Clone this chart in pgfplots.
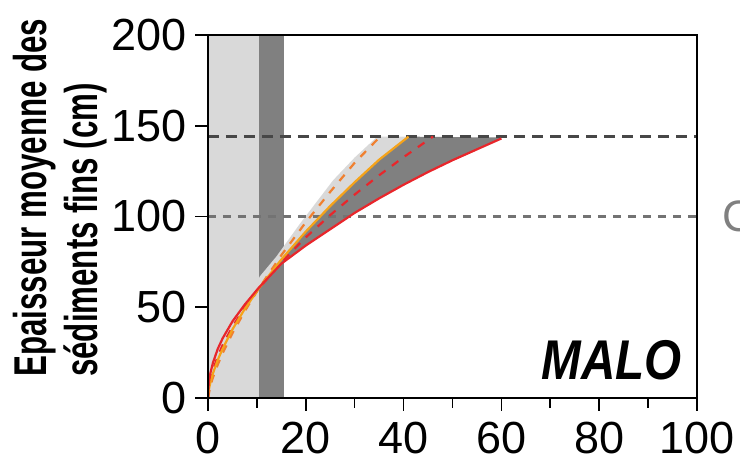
\documentclass[border=0pt]{standalone}
\usepackage{fontspec}
\setmainfont{Liberation Sans}
\newfontfamily\labfont[FakeStretch=0.68]{Liberation Sans}
\newfontfamily\malofont[FakeStretch=0.85]{Liberation Sans}
\newfontfamily\tickfont{Liberation Sans}
\usepackage{pgfplots}
\pgfplotsset{compat=1.18}
\definecolor{lgray}{HTML}{D9D9D9}
\definecolor{dgray}{HTML}{808080}
\definecolor{myred}{HTML}{E8262B}
\definecolor{myorange}{HTML}{F5A31A}
\definecolor{dorange}{HTML}{F08030}
\begin{document}
\begin{tikzpicture}
\begin{axis}[
  name=ax,
  scale only axis, width=489pt, height=363pt,
  xmin=0, xmax=100, ymin=0, ymax=200,
  xtick={0,20,...,100}, minor xtick={10,30,...,90},
  ytick={0,50,...,200},
  xtick pos=bottom, ytick pos=left,
  tick align=outside, major tick length=13pt, minor tick length=10pt,
  every tick/.style={black, line width=1.6pt},
  axis line style={line width=1.8pt},
  axis on top,
  /pgf/number format/assume math mode=true,
  every tick label/.append style={font=\tickfont\fontsize{45}{45}\selectfont, inner sep=0pt},
  xticklabel style={yshift=-11pt},
  yticklabel style={xshift=-8pt},
]
% vertical bands
\addplot[fill=lgray, draw=none] coordinates {(0,0) (10.4,0) (10.4,200) (0,200)} -- cycle;
\addplot[fill=dgray, draw=none] coordinates {(10.4,0) (15.6,0) (15.6,200) (10.4,200)} -- cycle;
% light envelope (upper boundary to orange solid)
\addplot[fill=lgray, draw=none] coordinates {
 (9.0,58) (10.6,67) (14,78) (18.8,96) (25.6,120) (30,132.5) (34.6,144)
 (41,144) (35,131.3) (30,118.9) (25,105.8) (20,91.7) (15,76.3) (10.3,60)} -- cycle;
% dark envelope (orange solid to red solid)
\addplot[fill=dgray, draw=none] coordinates {
 (10.3,60) (15,76.3) (20,91.7) (25,105.8) (30,118.9) (35,131.3) (41,144)
 (60,143.5) (55,137) (50,131) (45,124.5) (40,117.5) (35,110) (30,102) (25,93) (20,84) (15,74) (10.3,60.5)} -- cycle;
% horizontal reference lines
\addplot[color=black!72, line width=2.4pt, dash pattern=on 11pt off 7pt] coordinates {(0,144) (100,144)};
\addplot[color=black!55, line width=2.4pt, dash pattern=on 8pt off 7pt] coordinates {(0,100) (100,100)};
% orange dashed
\addplot[color=dorange, line width=2.2pt, dash pattern=on 8pt off 8pt] coordinates {
 (0,0) (0.5,6.8) (1,11.2) (2,18.4) (3,24.7) (5,35.7) (7.5,47.7) (10.3,60) (15,78.7) (20,96.8) (25,113.6) (30,129.6) (35.2,144)};
% red dashed
\addplot[color=myred, line width=2.2pt, dash pattern=on 8pt off 8pt] coordinates {
 (0,0) (0.5,10.2) (1,15.3) (2,23) (3,29.2) (5,39.3) (7.5,49.8) (10.3,60) (15,74.8) (20,88.5) (25,100.8) (30,112.1) (35,122.7) (40,132.7) (46,144)};
% orange solid
\addplot[color=myorange, line width=2.2pt] coordinates {
 (0,0) (0.25,5.6) (0.5,8.7) (1,13.5) (2,21) (3,27.2) (5,37.8) (7.5,49) (10.3,60) (15,76.3) (20,91.7) (25,105.8) (30,118.9) (35,131.3) (41,144)};
% red solid
\addplot[color=myred, line width=2.2pt] coordinates {
 (0,0) (0.1,6) (0.25,9.9) (0.5,13.8) (1,19.3) (2,27.1) (3,32.9) (5,42.2) (7.5,51.4) (10.3,60.5) (15,74) (20,84) (25,93) (30,102) (35,110) (40,117.5) (45,124.5) (50,131) (55,137) (60,143)};
\end{axis}
\begin{scope}[shift={(ax.south west)}]
\node[rotate=90, anchor=base west, inner sep=0pt, font=\labfont\bfseries\fontsize{46}{46}\selectfont] at (-161.3pt,21pt) {Epaisseur moyenne des};
\node[rotate=90, anchor=base west, inner sep=0pt, font=\labfont\bfseries\fontsize{46}{46}\selectfont] at (-110.5pt,21pt) {sédiments fins (cm)};
\node[anchor=base east, inner sep=0pt, font=\malofont\bfseries\itshape\fontsize{56}{56}\selectfont] at (474pt,18pt) {MALO};
\node[anchor=west, inner sep=0pt, text=black!50, font=\fontsize{44}{44}\selectfont] at (514pt,181.5pt) {C};
\pgfresetboundingbox
\path[use as bounding box] (-208pt,-65pt) rectangle (532pt,398pt);
\end{scope}
\end{tikzpicture}
\end{document}
